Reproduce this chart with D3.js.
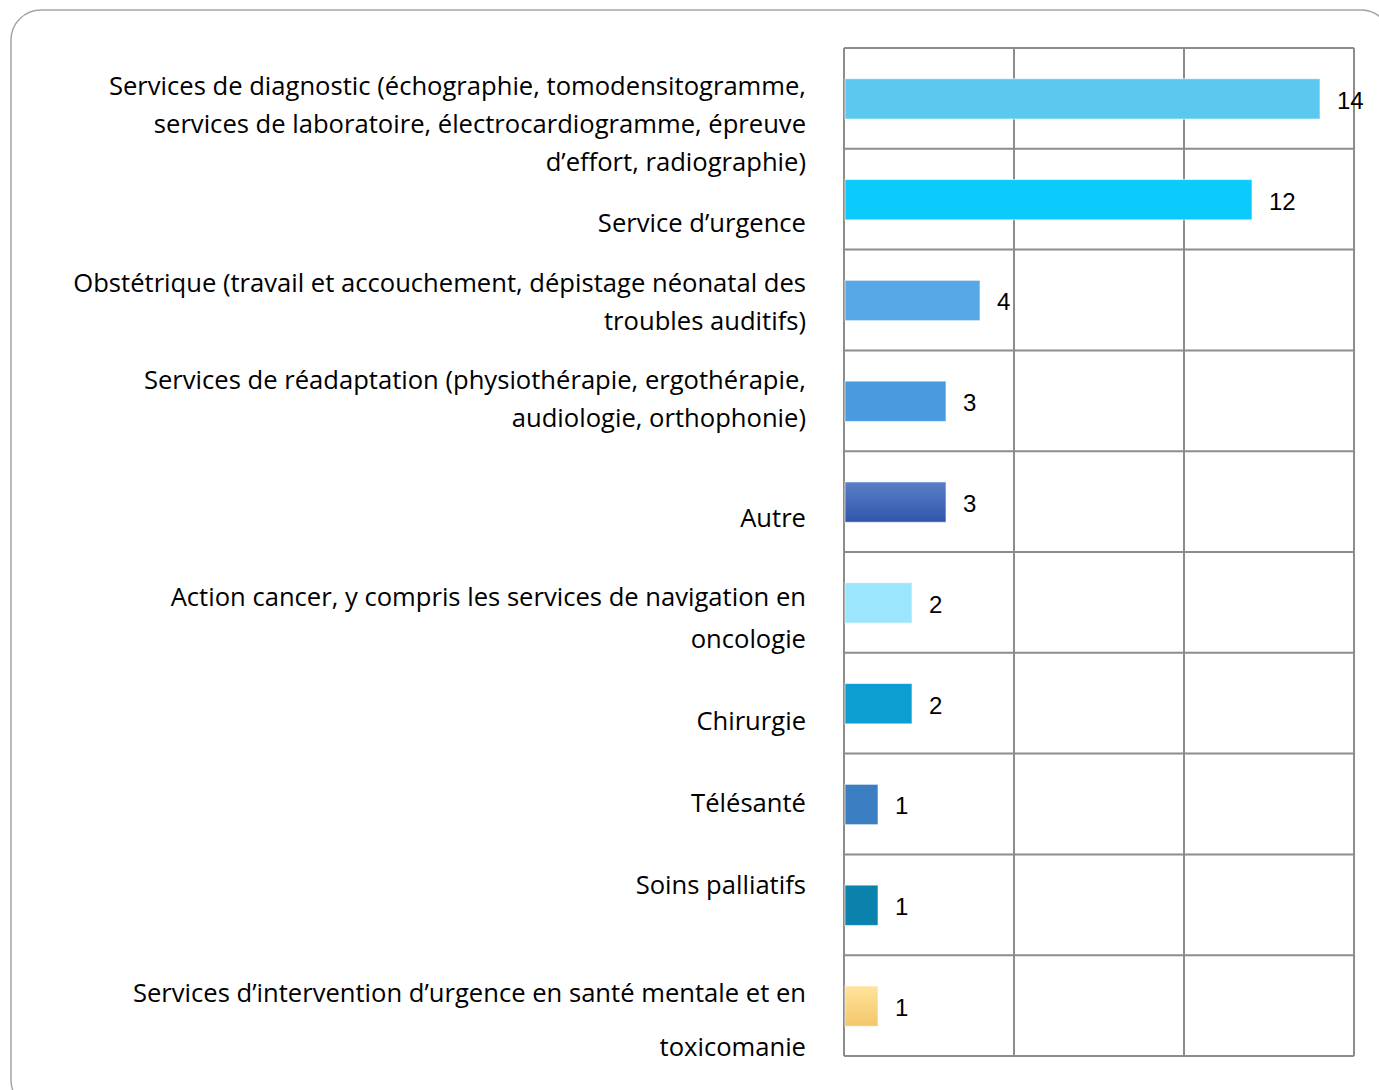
<!DOCTYPE html>
<html>
<head>
<meta charset="utf-8">
<script src="https://cdn.jsdelivr.net/npm/d3@7"></script>
<style>
  body { margin: 0; background: #fff; }
  svg { display: block; }
</style>
</head>
<body>
<div id="chart"></div>
<script>
(function() {
    'use strict';

    // data
    var categories = [
        "diagnostic", "urgence", "obstetrique", "readaptation", "autre",
        "cancer", "chirurgie", "telesante", "palliatifs", "sante_mentale"
    ];
    var labelLines = [
        ["Services de diagnostic (échographie, tomodensitogramme,", "services de laboratoire, électrocardiogramme, épreuve", "d\u2019effort, radiographie)"],
        ["Service d\u2019urgence"],
        ["Obstétrique (travail et accouchement, dépistage néonatal des", "troubles auditifs)"],
        ["Services de réadaptation (physiothérapie, ergothérapie,", "audiologie, orthophonie)"],
        ["Autre"],
        ["Action cancer, y compris les services de navigation en", "oncologie"],
        ["Chirurgie"],
        ["Télésanté"],
        ["Soins palliatifs"],
        ["Services d\u2019intervention d\u2019urgence en santé mentale et en", "toxicomanie"]
    ];
    var values = [14, 12, 4, 3, 3, 2, 2, 1, 1, 1];
    var xTicks = [0, 5, 10, 15];

    // styling (kept apart from the data)
    var barColors = [
        ["#5bc8ef", "#5bc8ef"], ["#0bcbfd", "#0bcbfd"], ["#56a8e6", "#56a8e6"],
        ["#4a9adf", "#4a9adf"], ["#5b7fc7", "#2f56ab"], ["#9be6fd", "#9be6fd"],
        ["#0b9ed0", "#0b9ed0"], ["#3c7ec2", "#3c7ec2"], ["#0a82ab", "#0a82ab"],
        ["#ffe49b", "#f4c66a"]
    ];
    // vertical offsets of each label line from the top of its row
    var labelOffsets = [
        [38, 76, 114], [74], [33, 71], [30, 68], [67],
        [45, 87], [68], [49], [31], [38, 92]
    ];

    var width = 1379, height = 1090;
    var left = 844, right = 1354, top = 48, bottom = 1056;

    var svg = d3.select("#chart").append("svg")
        .attr("width", width)
        .attr("height", height);

    svg.append("rect")
        .attr("x", 11).attr("y", 10)
        .attr("width", 1380).attr("height", 1100)
        .attr("rx", 30)
        .attr("fill", "#fff")
        .attr("stroke", "#a6a6a6")
        .attr("stroke-width", 1.5);

    var x = d3.scaleLinear().domain([0, 15]).range([left, right]);
    var y = d3.scaleBand().domain(categories).range([top, bottom]).padding(0);

    var defs = svg.append("defs");
    barColors.forEach(function(c, i) {
        var g = defs.append("linearGradient")
            .attr("id", "grad" + i)
            .attr("x1", 0).attr("y1", 0).attr("x2", 0).attr("y2", 1);
        g.append("stop").attr("offset", "0%").attr("stop-color", c[0]);
        g.append("stop").attr("offset", "100%").attr("stop-color", c[1]);
    });

    // grid
    var grid = svg.append("g").attr("stroke", "#8c8c8c").attr("stroke-width", 2);
    grid.selectAll("line.v")
        .data(xTicks).enter()
        .append("line")
        .attr("class", "v")
        .attr("x1", function(d) { return x(d); })
        .attr("x2", function(d) { return x(d); })
        .attr("y1", top).attr("y2", bottom);
    grid.selectAll("line.h")
        .data(categories.concat(["end"])).enter()
        .append("line")
        .attr("class", "h")
        .attr("x1", left).attr("x2", right)
        .attr("y1", function(d, i) { return top + i * y.step(); })
        .attr("y2", function(d, i) { return top + i * y.step(); });

    // bars
    var barH = y.bandwidth() * 0.4;
    svg.selectAll("rect.bar")
        .data(values).enter()
        .append("rect")
        .attr("class", "bar")
        .attr("x", x(0) + 1)
        .attr("y", function(d, i) { return y(categories[i]) + (y.bandwidth() - barH) / 2 + 0.5; })
        .attr("width", function(d) { return x(d) - x(0) - 1; })
        .attr("height", barH)
        .attr("fill", function(d, i) { return "url(#grad" + i + ")"; })
        .attr("stroke", "rgba(255,255,255,0.6)")
        .attr("stroke-width", 1);

    // value labels
    svg.selectAll("text.val")
        .data(values).enter()
        .append("text")
        .attr("class", "val")
        .attr("x", function(d) { return x(d) + 17; })
        .attr("y", function(d, i) { return y(categories[i]) + y.bandwidth() / 2 + 2; })
        .attr("dy", "0.35em")
        .attr("font-family", "Liberation Sans, Arial, sans-serif")
        .attr("font-size", 24)
        .attr("fill", "#000")
        .text(function(d) { return d; });

    // category labels
    var lab = svg.selectAll("g.lab")
        .data(categories).enter()
        .append("g")
        .attr("class", "lab");
    lab.selectAll("text")
        .data(function(d, i) {
            return labelLines[i].map(function(t, j) {
                return { text: t, y: y(d) + labelOffsets[i][j] };
            });
        }).enter()
        .append("text")
        .attr("x", 806)
        .attr("y", function(d) { return d.y; })
        .attr("dy", "0.35em")
        .attr("text-anchor", "end")
        .attr("font-family", "'Open Sans', sans-serif")
        .attr("font-size", 25.6)
        .attr("fill", "#000")
        .text(function(d) { return d.text; });
})();
</script>
</body>
</html>
